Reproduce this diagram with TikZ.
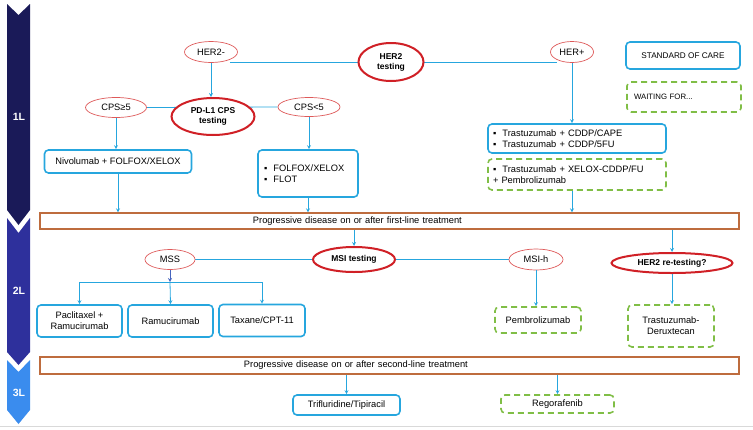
\documentclass[tikz,border=0pt]{standalone}
\usepackage{fontspec}
\setmainfont{Liberation Sans}
\usetikzlibrary{shapes.geometric,backgrounds}
\definecolor{careblue}{RGB}{38,166,222}
\definecolor{mssblue}{RGB}{70,100,190}
\definecolor{testred}{RGB}{208,32,38}
\definecolor{branchred}{RGB}{222,90,90}
\definecolor{waitgreen}{RGB}{128,190,70}
\definecolor{pdbrown}{RGB}{190,108,62}
\definecolor{lineone}{RGB}{26,26,88}
\definecolor{linetwo}{RGB}{46,48,156}
\definecolor{linethree}{RGB}{58,140,238}

\begin{document}
\begin{tikzpicture}[x=1pt, y=-1pt, >=stealth,
font=\fontsize{9.3}{11}\selectfont,
care/.style={draw=careblue, line width=1.6pt, rounded corners=4pt, inner sep=2pt, align=center},
waiting/.style={draw=waitgreen, line width=1.6pt, dash pattern=on 6pt off 4pt, rounded corners=4pt, inner sep=2pt, align=center},
test/.style={ellipse, draw=testred, line width=2pt, fill=white, inner sep=0pt, align=center, font=\fontsize{8.5}{10}\selectfont\bfseries},
branch/.style={ellipse, draw=branchred, line width=0.7pt, fill=white, inner sep=0pt},
progress/.style={draw=pdbrown, line width=1.2pt, inner ysep=0pt, inner xsep=8pt, text width=683pt, align=left},
link/.style={careblue, line width=0.8pt},
linelabel/.style={text=white, font=\fontsize{10.5}{12}\selectfont\bfseries},
]
\useasboundingbox (0,0) rectangle (753,429);

%%%%%%%%%%%%%%%%%%%%%%%% LINES OF THERAPY %%%%%%%%%%%%%%%%%%%%%%%%
\fill[lineone] (7,4) -- (18.5,15) -- (30,4) -- (30,210) -- (18.5,225) -- (7,210) -- cycle;
\fill[linetwo] (7,218) -- (18.5,233) -- (30,218) -- (30,352) -- (18.5,365) -- (7,352) -- cycle;
\fill[linethree] (7,360) -- (18.5,372) -- (30,360) -- (30,410) -- (18.5,424) -- (7,410) -- cycle;
\node[linelabel] (L1) at (19,117) {1L};
\node[linelabel] (L2) at (19,291) {2L};
\node[linelabel] (L3) at (19,393) {3L};
\draw[black!15, line width=0.8pt] (0,426.5) -- (753,426.5);

%%%%%%%%%%%%%%%%%%%%%%%% LEGEND %%%%%%%%%%%%%%%%%%%%%%%%
\node[care, minimum width=114pt, minimum height=27pt, font=\fontsize{8.2}{10}\selectfont] (soc) at (683,55.5) {STANDARD OF CARE};
\node[waiting, minimum width=114pt, minimum height=30pt, text width=100pt, align=left, font=\fontsize{7.8}{9}\selectfont] (wait) at (684,97) {WAITING FOR...};

%%%%%%%%%%%%%%%%%%%%%%%% FIRST LINE %%%%%%%%%%%%%%%%%%%%%%%%
\node[test, minimum width=65pt, minimum height=38pt] (her2t) at (391,62) {HER2\\testing};
\node[branch, minimum width=53pt, minimum height=21pt] (hm) at (211,52) {HER2-};
\node[branch, minimum width=43pt, minimum height=21pt] (hp) at (572,52) {HER+};
\node[test, minimum width=83pt, minimum height=37pt] (pdl1) at (213,116.5) {PD-L1 CPS\\testing};
\node[branch, minimum width=61pt, minimum height=20pt] (cps5) at (116,107.5) {CPS≥5};
\node[branch, minimum width=62pt, minimum height=19pt] (cpslt) at (309,107) {CPS<5};
\node[care, minimum width=147pt, minimum height=23pt] (niv) at (118,161.5) {Nivolumab + FOLFOX/XELOX};
\node[care, minimum width=100pt, minimum height=47pt, text width=88pt, align=left] (folfox) at (308,173.5) {▪\ \ FOLFOX/XELOX\\▪\ \ FLOT\\[4pt]};
\node[care, minimum width=178pt, minimum height=29pt, text width=168pt, align=left] (tras1) at (577,138.5) {▪\ \ Trastuzumab + CDDP/CAPE\\▪\ \ Trastuzumab + CDDP/5FU};
\node[waiting, minimum width=178pt, minimum height=31pt, text width=168pt, align=left] (tras2) at (577,174.5) {▪\ \ Trastuzumab + XELOX-CDDP/FU\\+ Pembrolizumab};
\node[progress, minimum height=16pt] (pd1) at (389.5,221) {\hspace*{205pt}Progressive disease on or after first-line treatment};

\begin{scope}[on background layer]
\draw[link] (her2t.west -| hm.south east) -- (her2t.east -| hp.south west);
\draw[link] (cps5.east) -- (cpslt.west);
\end{scope}
\draw[link,->] (hm.south) -- (hm.south |- pdl1.north);
\draw[link,->] (hp.south) -- (hp.south |- tras1.north);
\draw[link,->] (cps5.south) -- (cps5.south |- niv.north);
\draw[link,->] (cpslt.south) -- (cpslt.south |- folfox.north);
\draw[link,->] (niv.south) -- (niv.south |- pd1.north);
\draw[link,->] (folfox.south) -- (folfox.south |- pd1.north);
\draw[link,->] (tras2.south -| hp.south) -- (hp.south |- pd1.north);

%%%%%%%%%%%%%%%%%%%%%%%% SECOND LINE %%%%%%%%%%%%%%%%%%%%%%%%
\node[test, minimum width=82pt, minimum height=25pt] (msi) at (354,259.5) {MSI testing};
\node[branch, minimum width=50pt, minimum height=20pt] (mss) at (170,259.5) {MSS};
\node[branch, minimum width=54pt, minimum height=21pt] (msih) at (536,259.5) {MSI-h};
\node[test, minimum width=121pt, minimum height=20pt] (her2re) at (672,263) {HER2 re-testing?};
\coordinate (mssj) at (170,282);
\node[care, minimum width=85pt, minimum height=32pt] (pacl) at (79.5,321) {Paclitaxel +\\Ramucirumab};
\node[care, minimum width=85pt, minimum height=32pt] (ramu) at (170.5,321) {Ramucirumab};
\node[care, minimum width=86pt, minimum height=32pt] (taxa) at (262,320.5) {Taxane/CPT-11};
\node[waiting, minimum width=86pt, minimum height=26pt] (pembro) at (538,320) {Pembrolizumab};
\node[waiting, minimum width=86pt, minimum height=42pt] (tdx) at (671,326) {Trastuzumab-\\Deruxtecan};
\node[progress, minimum height=17pt] (pd2) at (389.5,365.5) {\hspace*{196pt}Progressive disease on or after second-line treatment};

\begin{scope}[on background layer]
\draw[link] (mss.east) -- (msih.west);
\end{scope}
\draw[link,->] (pd1.south -| msi.north) -- (msi.north);
\draw[link,->] (pd1.south -| her2re.north) -- (her2re.north);
\draw[mssblue, line width=0.8pt, ->] (mss.south) -- (mssj);
\draw[link] (mssj -| pacl.north) -- (mssj -| taxa.north);
\draw[link,->] (mssj -| pacl.north) -- (pacl.north);
\draw[link,->] (mssj) -- (ramu.north);
\draw[link,->] (mssj -| taxa.north) -- (taxa.north);
\draw[link,->] (msih.south) -- (msih.south |- pembro.north);
\draw[link,->] (her2re.south) -- (her2re.south |- tdx.north);

%%%%%%%%%%%%%%%%%%%%%%%% THIRD LINE %%%%%%%%%%%%%%%%%%%%%%%%
\node[care, minimum width=107pt, minimum height=20pt] (trif) at (346.5,405) {Trifluridine/Tipiracil};
\node[waiting, minimum width=113pt, minimum height=18pt] (rego) at (557.5,404) {Regorafenib};
\draw[link,->] (pd2.south -| trif.north) -- (trif.north);
\draw[link,->] (pd2.south -| rego.north) -- (rego.north);
\end{tikzpicture}
\end{document}
